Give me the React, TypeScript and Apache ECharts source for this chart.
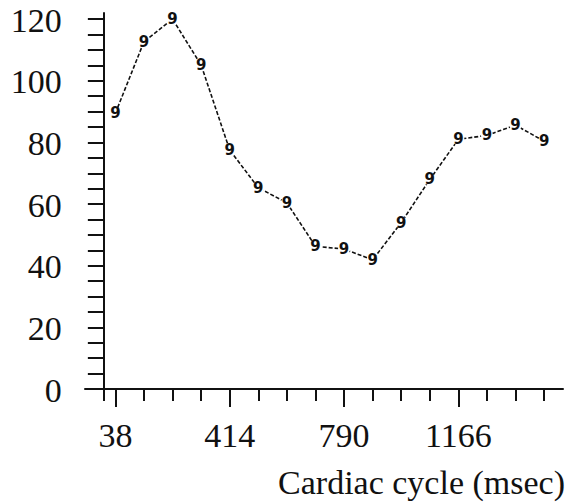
import React, { useEffect, useRef } from "react";
import * as echarts from "echarts";

// Cardiac cycle time points (msec)
const cycleTimes = [38, 132, 226, 320, 414, 508, 602, 696, 790, 884, 978, 1072, 1166, 1260, 1354, 1448];
// Measured values
const values = [89.5, 112.7, 120, 105.1, 77.5, 65.3, 60.4, 46.3, 45.4, 41.9, 54, 68, 81, 82.3, 85.6, 80.4];
// X axis labels (major ticks)
const xTickLabels = [38, 414, 790, 1166];
// X axis minor ticks (incl. origin)
const xMinorTicks = [0, 38, 132, 226, 320, 414, 508, 602, 696, 790, 884, 978, 1072, 1166, 1260, 1354, 1448];
// Y axis labels and ticks
const yTickLabels = [0, 20, 40, 60, 80, 100, 120];
const yTicks = [0, 5, 10, 15, 20, 25, 30, 35, 40, 45, 50, 55, 60, 65, 70, 75, 80, 85, 90, 95, 100, 105, 110, 115, 120];
const xTitle = "Cardiac cycle (msec)";

const SERIF = "Liberation Serif";

export default function App() {
  const ref = useRef<HTMLDivElement>(null);
  useEffect(() => {
    if (!ref.current) return;
    const chart = echarts.init(ref.current, undefined, { renderer: "svg" });
    const data = cycleTimes.map((t, i) => [t, values[i]]);
    const labelStyle = {
      fontSize: 34,
      fontFamily: SERIF,
      fontWeight: "normal",
      fontStyle: "normal",
      color: "#111",
    };
    chart.setOption({
      animation: false,
      backgroundColor: "#ffffff",
      grid: { left: 85, right: 8, top: 13, bottom: 115, containLabel: false, outerBoundsMode: "none" },
      xAxis: [
        {
          type: "value",
          min: -62,
          max: 1510,
          position: "bottom",
          axisLine: { show: true, onZero: true, lineStyle: { color: "#111", width: 2 } },
          axisTick: { show: true, inside: false, length: 12, customValues: xMinorTicks, lineStyle: { color: "#111", width: 2 } },
          axisLabel: { show: false },
          splitLine: { show: false },
        },
        {
          type: "value",
          min: -62,
          max: 1510,
          position: "bottom",
          axisLine: { show: false, onZero: false },
          axisTick: { show: true, inside: false, length: 18, customValues: xTickLabels, lineStyle: { color: "#111", width: 2 } },
          axisLabel: {
            show: true,
            customValues: xTickLabels,
            formatter: (v: number) => String(v),
            margin: 29,
            align: "center",
            verticalAlign: "top",
            ...labelStyle,
          },
          splitLine: { show: false },
        },
      ],
      yAxis: {
        type: "value",
        min: 0,
        max: 122,
        axisLine: { show: true, onZero: true, lineStyle: { color: "#111", width: 2 } },
        axisTick: { show: true, inside: false, length: 16, customValues: yTicks, lineStyle: { color: "#111", width: 2 } },
        axisLabel: { show: false },
        splitLine: { show: false },
      },
      series: [
        {
          type: "line",
          xAxisIndex: 0,
          yAxisIndex: 0,
          data,
          silent: true,
          symbol: "circle",
          symbolSize: 12,
          itemStyle: { color: "#ffffff", borderWidth: 0 },
          lineStyle: { color: "#111", width: 1.6, type: [4, 2] },
          label: {
            show: true,
            position: "inside",
            formatter: "9",
            color: "#111",
            fontSize: 15,
            fontWeight: "bold",
            fontFamily: "DejaVu Sans",
          },
          emphasis: { disabled: true },
        },
      ],
    });

    // Y tick labels placed through the chart's own scale
    const yLabelGraphics = yTickLabels.map((v) => {
      const p = chart.convertToPixel({ xAxisIndex: 0, yAxisIndex: 0 }, [0, v]) as number[];
      return {
        type: "text",
        id: "ylab" + v,
        x: p[0] - 42,
        y: p[1] + 1,
        style: {
          text: String(v),
          fontSize: 34,
          fontFamily: SERIF,
          fill: "#111",
          align: "right",
          verticalAlign: "middle",
        },
      };
    });
    chart.setOption({
      graphic: [
        ...yLabelGraphics,
        {
          type: "text",
          id: "xtitle",
          x: 565,
          y: 482,
          style: {
            text: xTitle,
            fontSize: 34,
            fontFamily: SERIF,
            fill: "#111",
            align: "right",
            verticalAlign: "middle",
          },
        },
      ],
    });
    return () => chart.dispose();
  }, []);
  return (
    <div
      ref={ref}
      style={{ position: "absolute", left: 0, top: 0, width: 571, height: 504, background: "#fff" }}
    />
  );
}
